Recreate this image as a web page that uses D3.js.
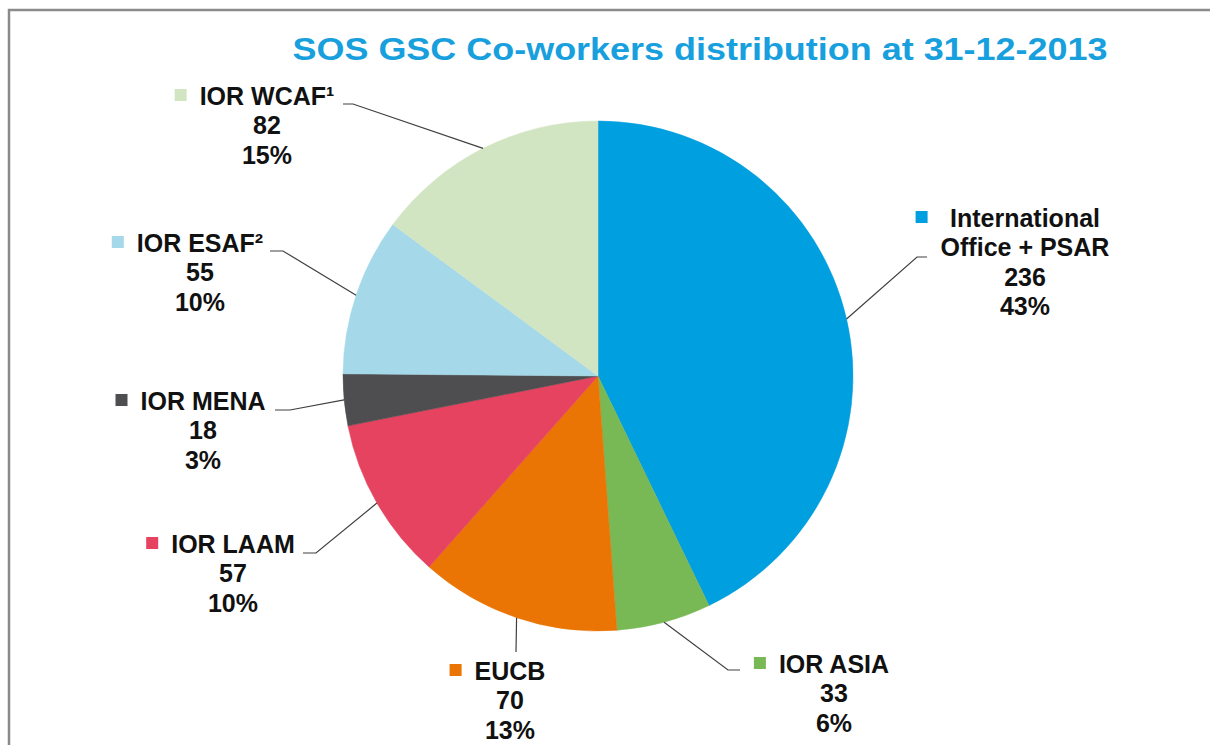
<!DOCTYPE html>
<html>
<head>
<meta charset="utf-8">
<script src="https://cdn.jsdelivr.net/npm/d3@7"></script>
<style>
  body { margin: 0; background: #fff; }
  svg { display: block; font-family: "Liberation Sans", Arial, sans-serif; }
</style>
</head>
<body>
<svg></svg>
<script>
// data
let categories = ["International Office + PSAR", "IOR ASIA", "EUCB", "IOR LAAM", "IOR MENA", "IOR ESAF\u00b2", "IOR WCAF\u00b9"]
let labelLines = [["International", "Office + PSAR"], ["IOR ASIA"], ["EUCB"], ["IOR LAAM"], ["IOR MENA"], ["IOR ESAF\u00b2"], ["IOR WCAF\u00b9"]]
let values = [236, 33, 70, 57, 18, 55, 82]
let colors = ["#009fe0", "#78b956", "#ea7404", "#e5435f", "#4e4e50", "#a5d9e9", "#d2e5c3"]

// label placement: text centre x, first baseline y, elbow and end of the leader line
let labelPos = [
    { x: 1025, y: 227, elbow: [917, 257], end: [927, 257] },
    { x: 834, y: 673, elbow: [728, 670], end: [740, 670] },
    { x: 510, y: 680, elbow: [516, 652], end: [516, 652] },
    { x: 233, y: 553, elbow: [316, 553], end: [303, 553] },
    { x: 203, y: 410, elbow: [290, 410], end: [275, 410] },
    { x: 200, y: 252, elbow: [283, 251], end: [270, 251] },
    { x: 267, y: 105, elbow: [353, 104], end: [343, 104] }
]

let width = 1210
let height = 745
let cx = 598
let cy = 376
let radius = 255
let lineGap = 29.3

let svg = d3.select("svg")

let drawCanvas = () => {
    svg.attr("width", width)
    svg.attr("height", height)

    // grey frame round the slide
    svg.append("rect")
        .attr("x", 9)
        .attr("y", 10)
        .attr("width", width)
        .attr("height", height)
        .attr("fill", "none")
        .attr("stroke", "#8a8a8a")
        .attr("stroke-width", 2.5)

    svg.append("text")
        .attr("x", 700)
        .attr("y", 60)
        .attr("text-anchor", "middle")
        .attr("fill", "#17a0dd")
        .attr("font-size", 32)
        .attr("font-weight", "bold")
        .attr("textLength", 815)
        .attr("lengthAdjust", "spacingAndGlyphs")
        .text("SOS GSC Co-workers distribution at 31-12-2013")
}

let pie = d3.pie().sort(null).value((d) => d)
let arcs = pie(values)
let arc = d3.arc().innerRadius(0).outerRadius(radius)
let edge = d3.arc().innerRadius(radius).outerRadius(radius)
let total = d3.sum(values)
let pct = d3.format(".0%")

let drawSlices = () => {
    let g = svg.append("g").attr("transform", "translate(" + cx + "," + cy + ")")
    g.selectAll("path")
        .data(arcs)
        .enter()
        .append("path")
        .attr("d", arc)
        .attr("fill", (d, i) => colors[i])
        .attr("stroke", (d, i) => colors[i])
        .attr("stroke-width", 0.5)
}

let drawLabels = () => {
    arcs.forEach((d, i) => {
        let pos = labelPos[i]
        // leader line starts on the rim at the middle of the slice
        let p = edge.centroid(d)
        let pts = [[cx + p[0], cy + p[1]], pos.elbow, pos.end]
        svg.append("path")
            .attr("d", d3.line()(pts))
            .attr("fill", "none")
            .attr("stroke", "#404040")
            .attr("stroke-width", 1.2)

        let lines = labelLines[i].concat([String(values[i]), pct(values[i] / total)])
        let t = svg.append("text")
            .attr("text-anchor", "middle")
            .attr("font-size", 25)
            .attr("font-weight", "bold")
            .attr("fill", "#111")
        lines.forEach((s, k) => {
            t.append("tspan")
                .attr("x", pos.x)
                .attr("y", pos.y + k * lineGap)
                .text(s)
        })

        // legend key sits left of the name lines
        let maxW = 0
        t.selectAll("tspan").each(function (s, k) {
            if (k < labelLines[i].length) maxW = Math.max(maxW, this.getComputedTextLength())
        })
        svg.append("rect")
            .attr("x", pos.x - maxW / 2 - 13 - 12)
            .attr("y", pos.y - 16)
            .attr("width", 12)
            .attr("height", 12)
            .attr("fill", colors[i])
    })
}

drawCanvas()
drawSlices()
drawLabels()
</script>
</body>
</html>
